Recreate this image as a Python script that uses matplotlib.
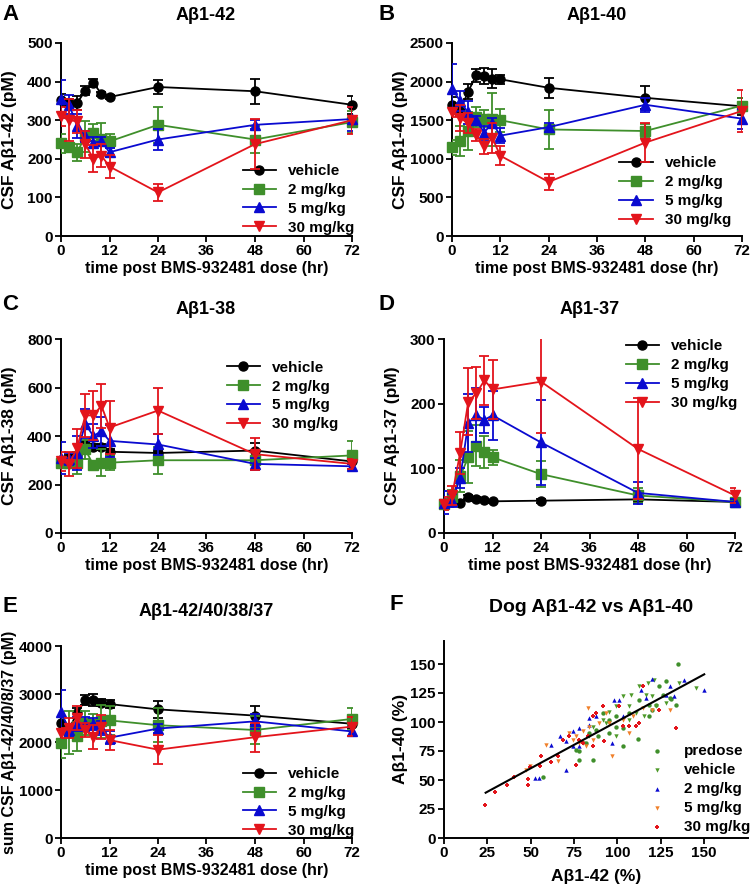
import numpy as np
import matplotlib
matplotlib.use("Agg")
import matplotlib.pyplot as plt

plt.rcParams['font.family'] = ['Liberation Sans', 'DejaVu Sans']
plt.rcParams['font.weight'] = 'bold'
plt.rcParams['axes.labelweight'] = 'bold'

# ---------------- data ----------------
times = [0, 2, 4, 6, 8, 10, 12, 24, 48, 72]
groups = ['vehicle', '2 mg/kg', '5 mg/kg', '30 mg/kg']

# Panel A: Abeta1-42
a_vals = [[352, 345, 345, 376, 397, 368, 360, 386, 375, 340],
          [240, 230, 217, 258, 268, 252, 245, 288, 250, 295],
          [355, 340, 285, 258, 242, 245, 217, 250, 288, 303],
          [310, 300, 297, 238, 200, 208, 180, 113, 238, 300]]
a_err = [[15, 10, 18, 12, 10, 6, 5, 18, 33, 23],
         [25, 10, 22, 40, 22, 42, 18, 47, 35, 28],
         [50, 25, 30, 15, 15, 12, 12, 28, 12, 30],
         [25, 55, 30, 35, 35, 30, 30, 22, 65, 35]]

# Panel B: Abeta1-40
b_vals = [[1700, 1620, 1870, 2080, 2070, 2040, 2030, 1920, 1790, 1680],
          [1150, 1230, 1360, 1540, 1520, 1510, 1500, 1380, 1360, 1690],
          [1910, 1750, 1600, 1500, 1340, 1470, 1300, 1410, 1700, 1520],
          [1600, 1530, 1460, 1310, 1160, 1270, 1040, 700, 1210, 1620]]
b_err = [[100, 60, 100, 80, 100, 120, 60, 130, 150, 110],
         [100, 200, 250, 130, 110, 340, 150, 250, 90, 100],
         [320, 130, 150, 60, 90, 60, 100, 60, 90, 130],
         [60, 170, 130, 80, 100, 200, 120, 100, 250, 270]]

# Panel C: Abeta1-38
c_vals = [[300, 310, 320, 365, 355, 355, 335, 330, 340, 295],
          [290, 290, 290, 345, 280, 290, 290, 300, 300, 320],
          [310, 305, 330, 450, 400, 420, 380, 365, 285, 275],
          [295, 285, 350, 485, 485, 525, 435, 505, 325, 285]]
c_err = [[15, 10, 12, 15, 12, 10, 12, 10, 30, 10],
         [15, 20, 45, 40, 15, 55, 30, 55, 15, 60],
         [65, 25, 70, 60, 50, 60, 65, 45, 25, 10],
         [40, 50, 80, 90, 100, 90, 110, 95, 65, 20]]

# Panel D: Abeta1-37
d_vals = [[45, 48, 47, 55, 52, 51, 49, 50, 52, 48],
          [45, 55, 88, 117, 135, 125, 117, 91, 58, 48],
          [47, 50, 85, 170, 182, 175, 182, 140, 62, 48],
          [45, 58, 124, 203, 216, 236, 222, 234, 130, 58]]
d_err = [[3, 3, 3, 3, 3, 2, 2, 3, 4, 3],
         [8, 12, 25, 40, 32, 25, 12, 20, 12, 5],
         [18, 10, 15, 45, 42, 20, 38, 66, 17, 5],
         [10, 15, 32, 52, 40, 38, 45, 80, 78, 12]]

# Panel E: sum
e_vals = [[2400, 2280, 2600, 2880, 2880, 2820, 2790, 2680, 2550, 2380],
          [1970, 2200, 2120, 2400, 2380, 2430, 2450, 2350, 2250, 2480],
          [2630, 2250, 2380, 2380, 2380, 2290, 2090, 2280, 2430, 2220],
          [2190, 2290, 2490, 2250, 2110, 2320, 2040, 1840, 2100, 2320]]
e_err = [[120, 100, 100, 100, 120, 80, 80, 170, 200, 80],
         [300, 450, 300, 250, 200, 350, 300, 350, 300, 230],
         [450, 120, 150, 150, 130, 150, 130, 100, 150, 100],
         [100, 200, 250, 150, 250, 250, 200, 300, 300, 200]]

# Panel F: scatter (Abeta1-42 %, Abeta1-40 %)
f_predose_x = [134.7, 128, 131, 124, 118.4, 111.6, 103, 95.3, 85.7, 78, 78, 82, 57, 88.6, 95.3,
               99, 91.5, 106.8, 112.6, 118.4, 122, 126, 130, 133.7, 87.7, 83.8, 103, 99, 76, 120]
f_predose_y = [150, 135.6, 119.8, 131, 104.9, 85.3, 79.6, 90.5, 67.5, 67.5, 74.7, 82, 53, 87.6, 102,
               96, 107.8, 107.8, 119, 115, 115, 123.6, 120.7, 115, 93.4, 90.5, 94.8, 104.9, 76, 110.6]
f_vehicle_x = [135.6, 145.2, 121, 117.4, 112.6, 107.8, 103, 99, 95.3, 91.5, 99, 85.7, 120, 128,
               110.7, 106.8, 122, 115, 80, 93.4, 116.4, 106.8, 95.3, 83.8]
f_vehicle_y = [133.6, 129.3, 136.5, 133.6, 130.7, 123.6, 122, 113.5, 109, 102, 87.6, 96, 122, 116.4,
               107.8, 102, 113.5, 105, 82, 99, 123.6, 113.5, 99, 87.6]
f_2mg_x = [150, 138.5, 130, 132.7, 120, 116.4, 103, 101, 98, 87.7, 83.8, 78, 74.2, 70.4, 66.6,
           61.8, 55, 52.2, 70.4, 97, 74.2, 83.8, 113.6, 128, 78]
f_2mg_y = [128, 136.5, 131.3, 122, 137, 120.7, 105, 119, 119, 105, 103.4, 94.8, 92, 83.3, 87.6,
           80, 51.7, 51.7, 59, 82, 79, 97.4, 127.9, 123.6, 79]
f_5mg_x = [83, 97, 130, 108.8, 103, 95.3, 89.6, 83.8, 80, 76, 72.3, 78, 82, 59, 65.6, 49.3,
           47.4, 120, 106.8, 85.7, 74.2, 93.4, 114.6]
f_5mg_y = [112, 70.4, 110.6, 105, 102, 99, 99, 96, 92, 87.6, 90.5, 82, 79, 80.5, 66, 61.8,
           59, 110.6, 90.5, 84.8, 84.8, 107.8, 112]
f_30mg_x = [23.4, 29.2, 36.4, 40.3, 48.3, 48.3, 49.3, 55.6, 56, 61.8, 65.6, 72.3, 76, 85.7, 85.7,
            87.7, 91.5, 92.5, 103, 110.7, 112.6, 114.6, 124, 133.7, 82.9, 78, 101, 106.8, 68.5, 80]
f_30mg_y = [28.7, 39.4, 45.4, 52.3, 50.9, 46, 61, 62.4, 70.4, 65.2, 70.4, 87.6, 63.2, 79, 105,
            107.8, 113.5, 83.3, 96.3, 96.3, 99, 130.7, 110.6, 94.8, 87.6, 84.8, 113.5, 96.3, 84.8, 82]
fit_x = [24, 150]
fit_slope = 0.81
fit_intercept = 19.6

# ---------------- style ----------------
BLACK = '#000000'
GREEN = '#3f8f2b'
BLUE = '#0a0ad0'
RED = '#e3141b'
ORANGE = '#f0802a'
colors = [BLACK, GREEN, BLUE, RED]
markers = ['o', 's', '^', 'v']

W, H = 752, 890
fig = plt.figure(figsize=(W / 100, H / 100), dpi=100)

TICK_FS = 11
LEG_FS = 11
LEG_SP = 0.32


def ax_px(left, right, top, bottom):
    return fig.add_axes([left / W, 1 - bottom / H, (right - left) / W, (bottom - top) / H])


def style_axes(ax):
    for s in ['top', 'right']:
        ax.spines[s].set_visible(False)
    for s in ['left', 'bottom']:
        ax.spines[s].set_linewidth(1.4)
    ax.tick_params(direction='out', length=4, width=1.3, labelsize=TICK_FS, pad=2)
    for lab in ax.get_xticklabels() + ax.get_yticklabels():
        lab.set_fontweight('bold')


def time_panel(ax, vals, errs, ymax, ystep, ylabel, ylabel_fs, legend_loc, legend_anchor):
    handles = []
    for i in range(4):
        ax.errorbar(times, vals[i], yerr=errs[i], fmt='none', ecolor=colors[i],
                    elinewidth=1.3, capsize=3.5, capthick=1.3, zorder=3 + i)
        h, = ax.plot(times, vals[i], color=colors[i], marker=markers[i], markersize=6.5,
                     linewidth=1.3, clip_on=False, zorder=3 + i, label=groups[i])
        handles.append(h)
    ax.set_xlim(0, 72)
    ax.set_ylim(0, ymax)
    ax.set_xticks(range(0, 73, 12))
    ax.set_yticks(np.arange(0, ymax + 1, ystep))
    ax.set_xlabel('time post BMS-932481 dose (hr)', fontsize=11.5, fontweight='bold', labelpad=2)
    ax.set_ylabel(ylabel, fontsize=ylabel_fs, fontweight='bold')
    ax.yaxis.set_label_coords(-0.152, 0.5)
    style_axes(ax)
    ax.legend(handles, groups, loc=legend_loc, bbox_to_anchor=legend_anchor, frameon=False,
              prop={'weight': 'bold', 'size': LEG_FS}, handlelength=2.2, handletextpad=0.8,
              labelspacing=LEG_SP, borderaxespad=0)


# A
axA = ax_px(61, 352, 43, 236)
time_panel(axA, a_vals, a_err, 500, 100, 'CSF Aβ1-42 (pM)', 12.5, 'lower right', (1.03, -0.025))
# B
axB = ax_px(452, 742, 43, 236)
time_panel(axB, b_vals, b_err, 2500, 500, 'CSF Aβ1-40 (pM)', 12.5, 'lower right', (0.985, 0.015))
# C
axC = ax_px(61, 352, 339, 533)
time_panel(axC, c_vals, c_err, 800, 200, 'CSF Aβ1-38 (pM)', 12.5, 'upper right', (0.975, 0.92))
# D
axD = ax_px(444, 735, 339, 533)
time_panel(axD, d_vals, d_err, 300, 100, 'CSF Aβ1-37 (pM)', 12.5, 'upper right', (1.03, 1.03))
# E
axE = ax_px(61, 352, 646, 838)
time_panel(axE, e_vals, e_err, 4000, 1000, 'sum CSF Aβ1-42/40/8/37 (pM)', 11.5, 'lower right', (1.03, -0.03))

# F
axF = ax_px(444, 747.6, 640.8, 838)
sc_kw = dict(s=10, linewidths=0, clip_on=False)
axF.scatter(f_predose_x, f_predose_y, color=GREEN, marker='o', label='predose', **sc_kw)
axF.scatter(f_vehicle_x, f_vehicle_y, color='#4e9a2a', marker='v', label='vehicle', **sc_kw)
axF.scatter(f_2mg_x, f_2mg_y, color=BLUE, marker='^', label='2 mg/kg', **sc_kw)
axF.scatter(f_5mg_x, f_5mg_y, color=ORANGE, marker='v', label='5 mg/kg', **sc_kw)
axF.scatter(f_30mg_x, f_30mg_y, color=RED, marker='P', label='30 mg/kg', **sc_kw)
fx = np.array(fit_x)
axF.plot(fx, fit_slope * fx + fit_intercept, color='black', linewidth=1.5, zorder=5)
axF.set_xlim(0, 175)
axF.set_ylim(0, 170)
axF.set_xticks(range(0, 151, 25))
axF.set_yticks(range(0, 151, 25))
axF.set_xlabel('Aβ1-42 (%)', fontsize=12.5, fontweight='bold', labelpad=6)
axF.set_ylabel('Aβ1-40 (%)', fontsize=12.5, fontweight='bold')
axF.yaxis.set_label_coords(-0.118, 0.5)
style_axes(axF)
axF.legend(loc='lower right', bbox_to_anchor=(1.03, -0.01), frameon=False,
           prop={'weight': 'bold', 'size': LEG_FS}, markerscale=1.0, handletextpad=0.8,
           labelspacing=LEG_SP, borderaxespad=0, scatterpoints=1)

# titles
tkw = dict(ha='center', va='center', fontsize=13, fontweight='bold')
fig.text(206 / W, 1 - 15 / H, 'Aβ1-42', **tkw)
fig.text(597 / W, 1 - 15 / H, 'Aβ1-40', **tkw)
fig.text(206 / W, 1 - 309 / H, 'Aβ1-38', **tkw)
fig.text(590 / W, 1 - 309 / H, 'Aβ1-37', **tkw)
fig.text(206 / W, 1 - 612 / H, 'Aβ1-42/40/38/37', **tkw)
fig.text(591 / W, 1 - 608 / H, 'Dog Aβ1-42 vs Aβ1-40', **dict(tkw, fontsize=14))

# panel letters
lkw = dict(ha='left', va='center', fontsize=16, fontweight='bold')
fig.text(2 / W, 1 - 14 / H, 'A', **lkw)
fig.text(378 / W, 1 - 14 / H, 'B', **lkw)
fig.text(2 / W, 1 - 305 / H, 'C', **lkw)
fig.text(378 / W, 1 - 305 / H, 'D', **lkw)
fig.text(2 / W, 1 - 607 / H, 'E', **lkw)
fig.text(390 / W, 1 - 604 / H, 'F', **lkw)

fig.savefig('out.png', dpi=100)
